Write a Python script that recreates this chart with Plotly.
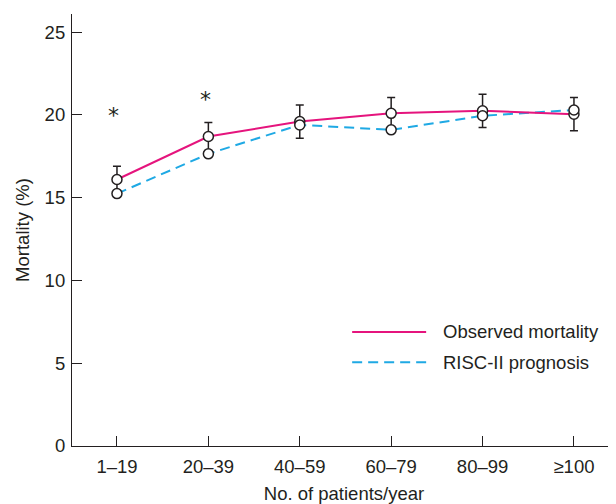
import plotly.graph_objects as go

categories = ["1–19", "20–39", "40–59", "60–79", "80–99", "≥100"]
observed = [16.1, 18.7, 19.6, 20.1, 20.25, 20.05]
observed_err = [0.8, 0.85, 1.0, 0.95, 1.0, 1.0]
risc = [15.25, 17.65, 19.4, 19.1, 19.95, 20.3]
star_cats = ["1–19", "20–39"]
star_y = [20.2, 21.2]
yticks = [0, 5, 10, 15, 20, 25]
series_names = ["Observed mortality", "RISC-II prognosis"]

PINK = "#E5147D"
BLUE = "#1FA9E4"
INK = "#231F20"
FONT = "Liberation Sans, Arial, sans-serif"
FS = 18.5

fig = go.Figure()
# lines first
fig.add_trace(go.Scatter(x=categories, y=risc, mode="lines",
                         line=dict(color=BLUE, width=2, dash="10px,6px"),
                         showlegend=False, hoverinfo="skip"))
fig.add_trace(go.Scatter(x=categories, y=observed, mode="lines",
                         line=dict(color=PINK, width=2),
                         showlegend=False, hoverinfo="skip"))
# markers on top
fig.add_trace(go.Scatter(x=categories, y=observed, mode="markers",
                         marker=dict(symbol="circle", size=10, color="white",
                                     line=dict(color=INK, width=1.5)),
                         error_y=dict(type="data", array=observed_err, visible=True,
                                      color=INK, thickness=1.5, width=4),
                         showlegend=False))
fig.add_trace(go.Scatter(x=categories, y=risc, mode="markers",
                         marker=dict(symbol="circle", size=10, color="white",
                                     line=dict(color=INK, width=1.5)),
                         showlegend=False))

for c, yv in zip(star_cats, star_y):
    fig.add_annotation(x=c, y=yv, text="*", showarrow=False,
                       font=dict(family="DejaVu Sans, sans-serif", size=22, color=INK),
                       xanchor="center", yanchor="middle", xshift=-3, yshift=-4)

# custom legend
leg = [(0.264, PINK, "solid"), (0.194, BLUE, "10px,6px")]
for (yp, col, dash), name in zip(leg, series_names):
    fig.add_shape(type="line", xref="paper", yref="paper",
                  x0=0.515, x1=0.651, y0=yp, y1=yp,
                  line=dict(color=col, width=2, dash=dash))
    fig.add_annotation(xref="paper", yref="paper", x=0.678, y=yp, text=name,
                       showarrow=False, xanchor="left", yanchor="middle",
                       font=dict(family=FONT, size=FS, color=INK))

fig.update_layout(
    width=616, height=504,
    margin=dict(l=64, r=8, t=6, b=66),
    paper_bgcolor="white", plot_bgcolor="white",
    font=dict(family=FONT, size=FS, color=INK),
    showlegend=False,
)
fig.update_xaxes(
    type="category", range=[-0.492, 5.46], automargin=False,
    showline=True, linecolor=INK, linewidth=1.2,
    ticks="inside", ticklen=10, tickcolor=INK, tickwidth=1.2,
    showgrid=False, zeroline=False, ticklabelstandoff=4,
    title=dict(text="No. of patients/year", standoff=10,
               font=dict(family=FONT, size=FS, color=INK)),
    tickfont=dict(family=FONT, size=FS, color=INK),
)
fig.update_yaxes(
    range=[0, 26.1], tickvals=yticks, automargin=False,
    showline=True, linecolor=INK, linewidth=1.2,
    ticks="inside", ticklen=10, tickcolor=INK, tickwidth=1.2,
    showgrid=False, zeroline=False, ticklabelstandoff=2,
    title=dict(text="Mortality (%)", standoff=10,
               font=dict(family=FONT, size=FS, color=INK)),
    tickfont=dict(family=FONT, size=FS, color=INK),
)

fig.write_html("out.html")
